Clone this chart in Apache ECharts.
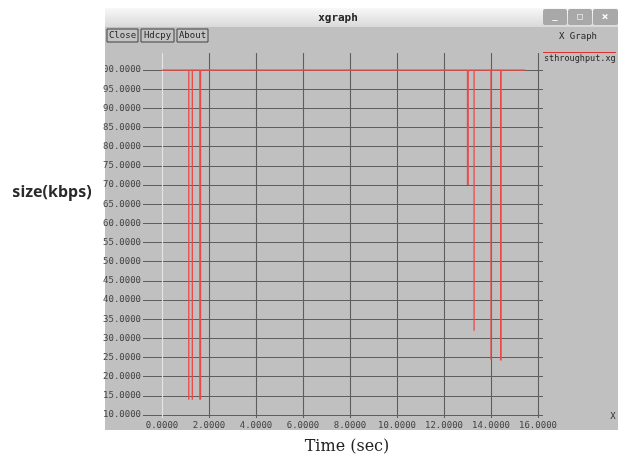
<!DOCTYPE html>
<html>
<head>
<meta charset="utf-8">
<script src="https://cdn.jsdelivr.net/npm/echarts@6/dist/echarts.min.js"></script>
<style>
  html, body { margin: 0; padding: 0; background: #fff; }
  #main { width: 625px; height: 459px; }
</style>
</head>
<body>
<div id="main"></div>
<script>
// throughput data
var startTime = 0;
var endTime = 15.45;
var topValue = 100;
var dropTimes = [1.14, 1.29, 1.61, 1.64, 13.0, 13.03, 13.28, 14.0, 14.41, 14.43];
var dropLows = [14, 14, 14, 14, 70, 70, 32, 24.4, 24.2, 24.2];

var fmt = function (v) { return v.toFixed(4); };
var mono = 'DejaVu Sans Mono';

function buildLine() {
  var pts = [[startTime, topValue]];
  for (var i = 0; i < dropTimes.length; i++) {
    pts.push([dropTimes[i], topValue]);
    pts.push([dropTimes[i], dropLows[i]]);
    pts.push([dropTimes[i], topValue]);
  }
  pts.push([endTime, topValue]);
  return pts;
}

function draw_xgraph() {
  var dom = document.getElementById('main');
  var myChart = echarts.init(dom, null, { renderer: 'canvas' });
  var gridColor = '#5e5e5e';

  var option = {
    backgroundColor: '#ffffff',
    animation: false,
    grid: [
      { left: 143, right: 82, top: 70, bottom: 44 },  // horizontal lines + y labels
      { left: 162, right: 87, top: 53, bottom: 41 },  // vertical lines + x labels
      { left: 162, right: 87, top: 70, bottom: 44 }   // data
    ],
    xAxis: [
      { gridIndex: 0, type: 'value', show: false },
      {
        gridIndex: 1, type: 'value', min: 0, max: 16, interval: 2,
        axisLine: { show: false }, axisTick: { show: false },
        axisLabel: { formatter: fmt, fontFamily: mono, fontSize: 9, color: '#444', margin: 3 },
        splitLine: { show: true, lineStyle: { color: ['#e4e4e4', gridColor, gridColor, gridColor, gridColor, gridColor, gridColor, gridColor, gridColor], width: 1.1 } }
      },
      { gridIndex: 2, type: 'value', min: 0, max: 16, show: false }
    ],
    yAxis: [
      {
        gridIndex: 0, type: 'value', min: 10, max: 100, interval: 5,
        axisLine: { show: false }, axisTick: { show: false },
        axisLabel: { formatter: fmt, fontFamily: mono, fontSize: 9, color: '#444', margin: 2 },
        splitLine: { show: true, lineStyle: { color: gridColor, width: 1 } }
      },
      { gridIndex: 1, type: 'value', show: false },
      { gridIndex: 2, type: 'value', min: 10, max: 100, show: false }
    ],
    series: [
      {
        name: 'sthroughput.xg',
        type: 'line',
        xAxisIndex: 2,
        yAxisIndex: 2,
        data: buildLine(),
        symbol: 'none',
        lineStyle: { color: '#ec4848', width: 1.3 },
        z: 5
      }
    ],
    graphic: [
      // window body
      { type: 'rect', z: -10, silent: true, shape: { x: 105, y: 8, width: 513, height: 422 }, style: { fill: '#c0c0c0' } },
      // title bar
      { type: 'rect', z: -9, silent: true, shape: { x: 105, y: 8, width: 513, height: 19 },
        style: { fill: new echarts.graphic.LinearGradient(0, 0, 0, 1, [{ offset: 0, color: '#f8f8f8' }, { offset: 1, color: '#d9d9d9' }]) } },
      { type: 'text', x: 338, y: 18, style: { text: 'xgraph', font: 'bold 11px ' + mono, fill: '#222', align: 'center', verticalAlign: 'middle' } },
      { type: 'rect', shape: { x: 543, y: 9, width: 24, height: 16, r: 2 }, style: { fill: '#a8a8a8' } },
      { type: 'rect', shape: { x: 568, y: 9, width: 24, height: 16, r: 2 }, style: { fill: '#a8a8a8' } },
      { type: 'rect', shape: { x: 593, y: 9, width: 25, height: 16, r: 2 }, style: { fill: '#a8a8a8' } },
      { type: 'text', x: 555, y: 17, style: { text: '_', font: 'bold 9px ' + mono, fill: '#fff', align: 'center', verticalAlign: 'middle' } },
      { type: 'text', x: 580, y: 17, style: { text: '□', font: 'bold 9px ' + mono, fill: '#fff', align: 'center', verticalAlign: 'middle' } },
      { type: 'text', x: 605, y: 17, style: { text: '×', font: 'bold 11px ' + mono, fill: '#fff', align: 'center', verticalAlign: 'middle' } },
      // buttons
      { type: 'rect', shape: { x: 107, y: 29, width: 31, height: 13 }, style: { fill: '#c4c4c4', stroke: '#404040', lineWidth: 1 } },
      { type: 'rect', shape: { x: 141, y: 29, width: 33, height: 13 }, style: { fill: '#c4c4c4', stroke: '#404040', lineWidth: 1 } },
      { type: 'rect', shape: { x: 177, y: 29, width: 31, height: 13 }, style: { fill: '#c4c4c4', stroke: '#404040', lineWidth: 1 } },
      { type: 'text', x: 122.5, y: 35.5, style: { text: 'Close', font: '9px ' + mono, fill: '#222', align: 'center', verticalAlign: 'middle' } },
      { type: 'text', x: 157.5, y: 35.5, style: { text: 'Hdcpy', font: '9px ' + mono, fill: '#222', align: 'center', verticalAlign: 'middle' } },
      { type: 'text', x: 192.5, y: 35.5, style: { text: 'About', font: '9px ' + mono, fill: '#222', align: 'center', verticalAlign: 'middle' } },
      // legend panel
      { type: 'text', x: 578, y: 37, style: { text: 'X Graph', font: '9px ' + mono, fill: '#222', align: 'center', verticalAlign: 'middle' } },
      { type: 'line', shape: { x1: 543, y1: 52.5, x2: 616, y2: 52.5 }, style: { stroke: '#e03030', lineWidth: 1 } },
      { type: 'text', x: 544, y: 59, style: { text: 'sthroughput.xg', font: '8.5px ' + mono, fill: '#222', align: 'left', verticalAlign: 'middle' } },
      { type: 'text', x: 613, y: 417, style: { text: 'X', font: '9px ' + mono, fill: '#333', align: 'center', verticalAlign: 'middle' } },
      // clip the label sticking out of the window
      { type: 'rect', z: 100, shape: { x: 0, y: 62, width: 105, height: 16 }, style: { fill: '#fff' } },
      // outer captions
      { type: 'text', x: 52, y: 192, style: { text: 'size(kbps)', font: 'bold 16px "Noto Sans"', fill: '#2a2a2a', align: 'center', verticalAlign: 'middle' } },
      { type: 'text', x: 347, y: 447, style: { text: 'Time (sec)', font: '16px "DejaVu Serif"', fill: '#222', align: 'center', verticalAlign: 'middle' } }
    ]
  };

  myChart.setOption(option);
  window.addEventListener('resize', myChart.resize);
}

draw_xgraph();
</script>
</body>
</html>
